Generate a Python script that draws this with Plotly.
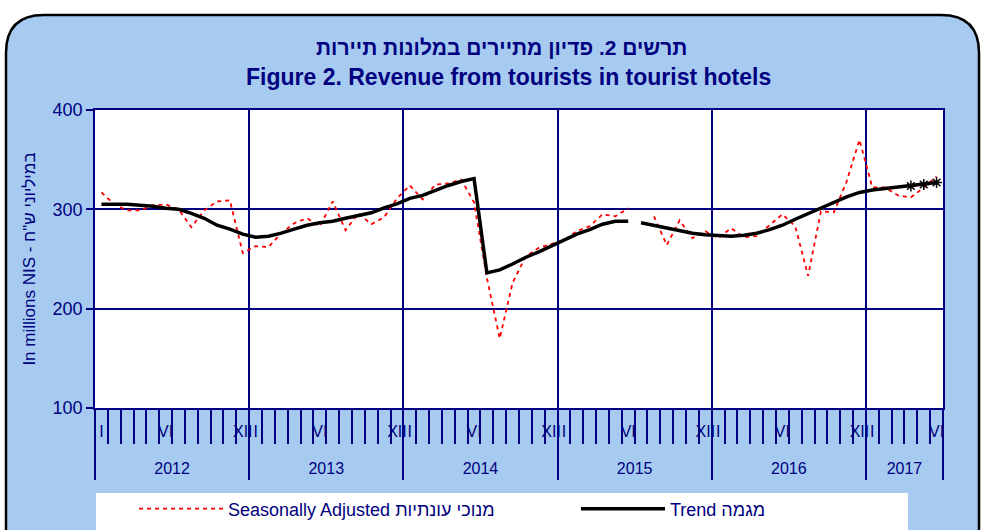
import numpy as np
import plotly.graph_objects as go

# ---------------- data ----------------
years = [2012, 2013, 2014, 2015, 2016, 2017]
months_in_year = [12, 12, 12, 12, 12, 6]
month_labels = {1: "I", 6: "VI", 12: "XII"}

sa_2012 = [317, 305, 299, 299, 304, 305, 300, 282, 299, 308, 309, 256]
sa_2013 = [263, 262, 276, 286, 291, 283, 308, 279, 296, 285, 292, 311]
sa_2014 = [324, 310, 325, 326, 330, 307, 231, 170, 226, 252, 261, 265]
sa_2015 = [269, 278, 283, 295, 293, 301, None, 293, 264, 289, 271, 278]
sa_2016 = [271, 281, 272, 273, 284, 295, 283, 233, 298, 297, 328, 370]
sa_2017 = [322, 322, 314, 312, 322, 333]

trend_2012 = [305, 305, 305, 304, 303, 301, 300, 296, 291, 284, 280, 275]
trend_2013 = [272, 273, 276, 280, 284, 286.5, 288, 291, 293.5, 296.5, 301.5, 305.5]
trend_2014 = [311, 314, 319, 324, 328, 331, 236, 239, 245, 251.5, 257, 263]
trend_2015 = [269, 275, 279.5, 285, 288, 288, 286.5, 284, 281, 279, 276, 274.5]
trend_2016 = [273.5, 273, 274, 276, 279.5, 284, 290, 295.5, 301, 307, 312.5, 317]
trend_2017 = [319.5, 321, 322.5, 323.5, 325, 327]

seasonally_adjusted = sa_2012 + sa_2013 + sa_2014 + sa_2015 + sa_2016 + sa_2017
trend = trend_2012 + trend_2013 + trend_2014 + trend_2015 + trend_2016 + trend_2017
trend_break = 42      # trend line interrupted between VI and VII 2015
provisional = 3       # last trend points marked with asterisks

y_ticks = [100, 200, 300, 400]

title_he = "תרשים 2. פדיון מתיירים במלונות תיירות"
title_en = "Figure 2. Revenue from tourists in tourist hotels"
y_title = "In millions NIS - במיליוני ש\"ח"
name_sa = "Seasonally Adjusted מנוכי עונתיות"
name_trend = "Trend מגמה"

# ---------------- styling ----------------
NAVY = "#000080"
BG = "#A6CAF0"
FONT = "Liberation Sans, Arial, sans-serif"

W, H = 985, 530
L, R, T, B = 95, 943, 110, 408   # plot area in px


def X(p):
    return (p - L) / (R - L)


def Y(p):
    return (B - p) / (B - T)


n = len(trend)
x = np.arange(n) + 0.5
bounds = [int(b) for b in np.cumsum([0] + months_in_year)]
year_centers = [(bounds[i] + bounds[i + 1]) / 2 for i in range(len(years))]
month_bounds = [b for b in range(1, n) if b not in bounds]

m_vals, m_text = [], []
for i, cnt in enumerate(months_in_year):
    for m in range(1, cnt + 1):
        if m in month_labels:
            m_vals.append(bounds[i] + m - 0.5)
            m_text.append(month_labels[m])

fig = go.Figure()
fig.add_trace(go.Scatter(
    x=x, y=seasonally_adjusted, mode="lines", name=name_sa,
    line=dict(color="#FF0000", width=1.8, dash="4px,4px"),
    connectgaps=False, legend="legend"))
fig.add_trace(go.Scatter(
    x=x[:trend_break], y=trend[:trend_break], mode="lines", name=name_trend,
    legendgroup="trend", legend="legend2",
    line=dict(color="black", width=3.5)))
fig.add_trace(go.Scatter(
    x=x[trend_break:], y=trend[trend_break:], mode="lines", name=name_trend,
    legendgroup="trend", showlegend=False, legend="legend2",
    line=dict(color="black", width=3.5)))
fig.add_trace(go.Scatter(
    x=x[-provisional:], y=trend[-provisional:], mode="markers",
    showlegend=False, legendgroup="trend", legend="legend2",
    marker=dict(symbol="asterisk-open", size=9, color="black",
                line=dict(color="black", width=1.5))))
# empty carriers so that the overlaid tick/label axes are drawn
for ax in ["x2", "x3", "x4"]:
    fig.add_trace(go.Scatter(x=[], y=[], xaxis=ax, yaxis="y",
                             showlegend=False, hoverinfo="skip"))

rad = 38
top, left, right, bottom = 15, 6, 979, 545
path = (f"M {X(left)},{Y(bottom)} L {X(left)},{Y(top + rad)} "
        f"Q {X(left)},{Y(top)} {X(left + rad)},{Y(top)} "
        f"L {X(right - rad)},{Y(top)} "
        f"Q {X(right)},{Y(top)} {X(right)},{Y(top + rad)} "
        f"L {X(right)},{Y(bottom)} Z")

shapes = [
    dict(type="path", path=path, xref="paper", yref="paper",
         fillcolor=BG, line=dict(color="black", width=2.5), layer="below"),
    dict(type="rect", xref="paper", yref="paper", x0=0, x1=1, y0=0, y1=1,
         fillcolor="white", line=dict(width=0), layer="below"),
    dict(type="rect", xref="paper", yref="paper", x0=X(96), x1=X(908),
         y0=Y(545), y1=Y(493), fillcolor="white", line=dict(width=0),
         layer="below"),
]


def xax(**kw):
    base = dict(range=[0, n], showgrid=False, zeroline=False,
                fixedrange=True, anchor="y", side="bottom", tickangle=0)
    base.update(kw)
    return base


legend_common = dict(orientation="h", xanchor="left", yanchor="middle",
                     bgcolor="rgba(0,0,0,0)", itemwidth=84,
                     font=dict(size=18, color=NAVY, family=FONT))

fig.update_layout(
    width=W, height=H,
    margin=dict(l=L, r=W - R, t=T, b=H - B, autoexpand=False),
    paper_bgcolor="white", plot_bgcolor="white",
    font=dict(family=FONT, color=NAVY),
    shapes=shapes,
    showlegend=True,
    legend=dict(x=X(134), y=Y(509), **legend_common),
    legend2=dict(x=X(576), y=Y(509), **legend_common),
    xaxis=xax(tickmode="array", tickvals=bounds, showticklabels=False,
              ticks="outside", ticklen=70, tickwidth=1.5, tickcolor=NAVY,
              showgrid=True, gridcolor=NAVY, gridwidth=1.5,
              showline=True, mirror=True, linecolor=NAVY, linewidth=1.5),
    xaxis2=xax(overlaying="x",
               tickmode="array", tickvals=month_bounds, showticklabels=False,
               ticks="outside", ticklen=35, tickwidth=1.5, tickcolor=NAVY),
    xaxis3=xax(overlaying="x",
               tickmode="array", tickvals=m_vals, ticktext=m_text,
               ticks="outside", ticklen=9, tickcolor="rgba(0,0,0,0)",
               tickfont=dict(size=16, color=NAVY, family=FONT)),
    xaxis4=xax(overlaying="x",
               tickmode="array", tickvals=year_centers,
               ticktext=[str(yv) for yv in years],
               ticks="outside", ticklen=46, tickcolor="rgba(0,0,0,0)",
               tickfont=dict(size=16, color=NAVY, family=FONT)),
    yaxis=dict(range=[100, 400], tickmode="array", tickvals=y_ticks,
               ticks="outside", ticklen=7, tickwidth=1.5, tickcolor=NAVY,
               tickfont=dict(size=18, color=NAVY, family=FONT),
               showgrid=True, gridcolor=NAVY, gridwidth=1.5, zeroline=False,
               showline=True, mirror=True, linecolor=NAVY, linewidth=1.5,
               fixedrange=True,
               title=dict(text=y_title, standoff=13,
                          font=dict(size=17, color=NAVY, family=FONT))),
    annotations=[
        dict(text=f"<b>{title_he}</b>", xref="paper", yref="paper",
             x=X(501), y=Y(48), xanchor="center", yanchor="middle",
             showarrow=False, font=dict(size=21, color=NAVY, family=FONT)),
        dict(text=f"<b>{title_en}</b>", xref="paper", yref="paper",
             x=X(508), y=Y(77), xanchor="center", yanchor="middle",
             showarrow=False, font=dict(size=23, color=NAVY, family=FONT)),
    ],
)

fig.write_html("out.html", config={"displayModeBar": False},
               post_script="document.body.style.margin='0px';")
